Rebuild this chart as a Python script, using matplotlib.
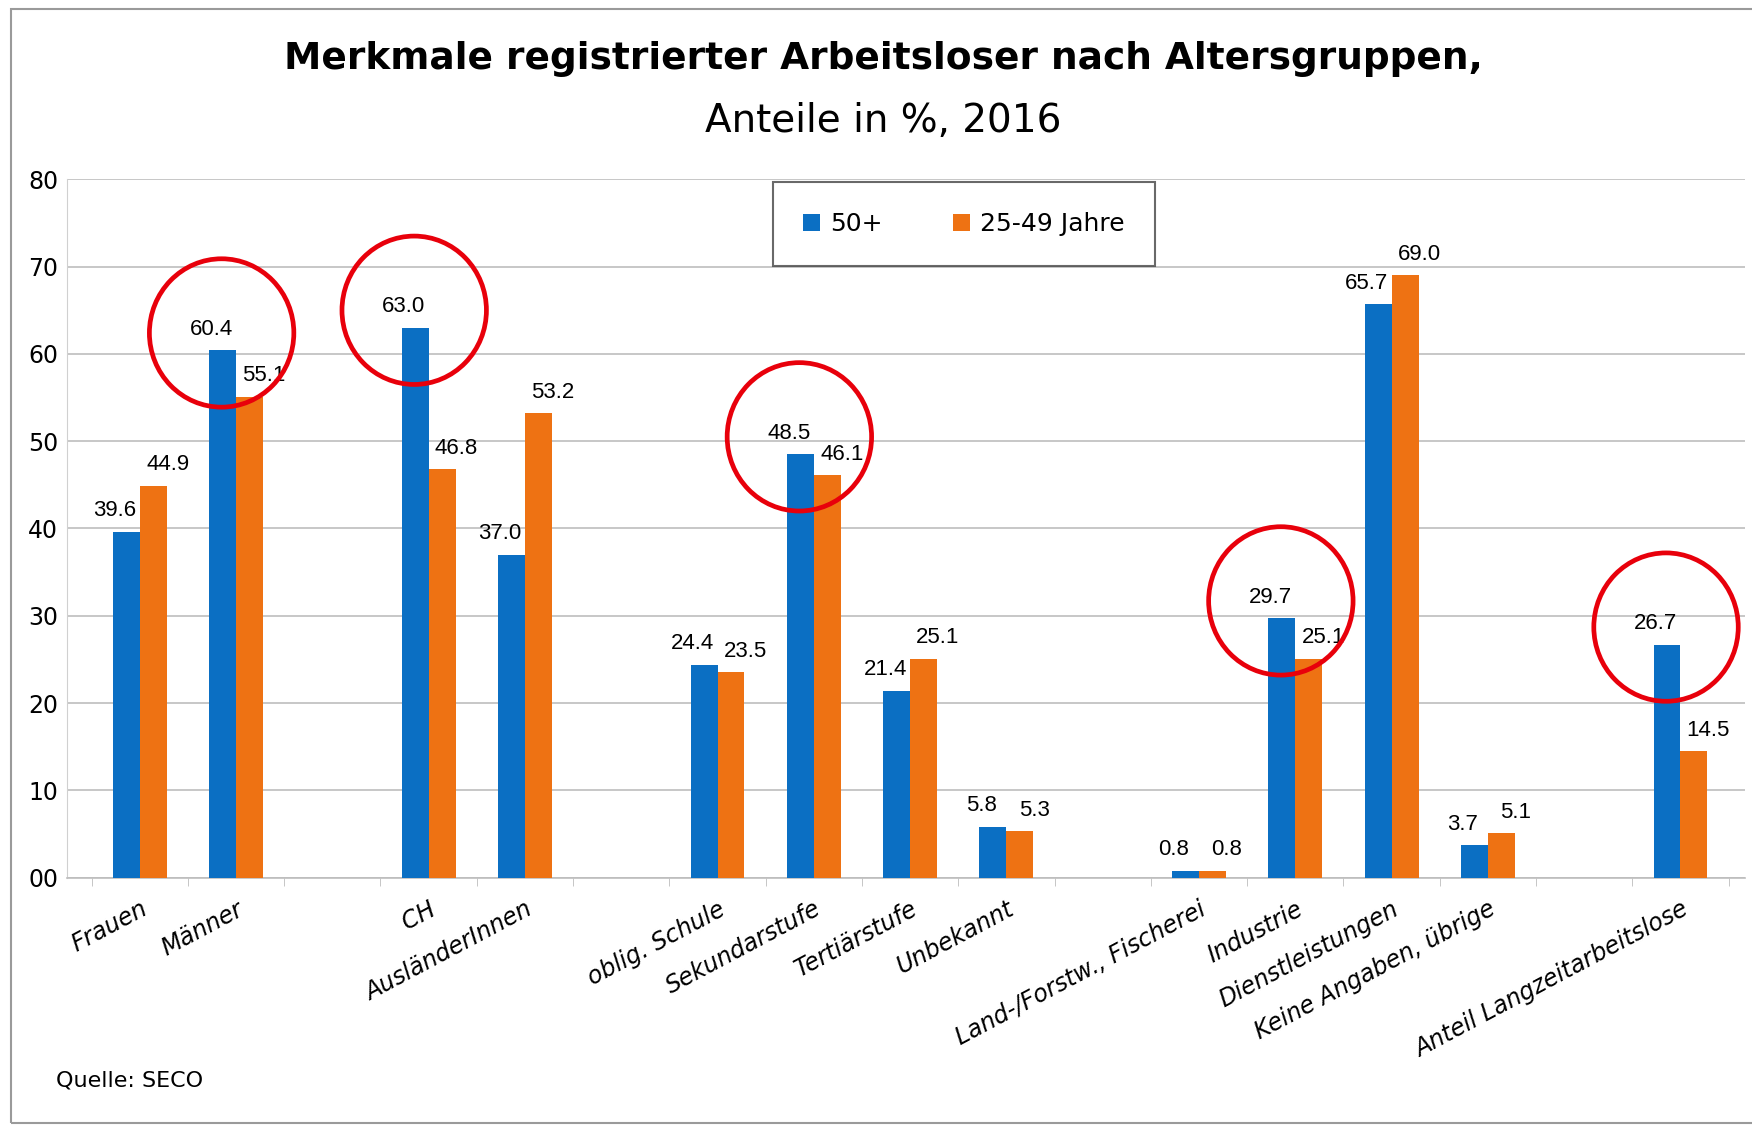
import matplotlib
matplotlib.use("Agg")
import matplotlib.pyplot as plt
from matplotlib.patches import Ellipse, Rectangle

# slots incl. empty gaps between the groups
categories = ["Frauen", "Männer", "", "CH", "AusländerInnen", "",
              "oblig. Schule", "Sekundarstufe", "Tertiärstufe", "Unbekannt", "",
              "Land-/Forstw., Fischerei", "Industrie", "Dienstleistungen",
              "Keine Angaben, übrige", "", "Anteil Langzeitarbeitslose"]
val_50 = [39.6, 60.4, None, 63.0, 37.0, None, 24.4, 48.5, 21.4, 5.8, None,
          0.8, 29.7, 65.7, 3.7, None, 26.7]
val_25 = [44.9, 55.1, None, 46.8, 53.2, None, 23.5, 46.1, 25.1, 5.3, None,
          0.8, 25.1, 69.0, 5.1, None, 14.5]
highlight = ["Männer", "CH", "Sekundarstufe", "Industrie", "Anteil Langzeitarbeitslose"]
series_names = ["50+", "25-49 Jahre"]
yticks = [0, 10, 20, 30, 40, 50, 60, 70, 80]
yticklabels = ["00", "10", "20", "30", "40", "50", "60", "70", "80"]

blue = "#0B6FC3"
orange = "#EE7213"
font = "DejaVu Sans"

fig = plt.figure(figsize=(17.52, 11.28), dpi=100)
ax = fig.add_axes([0.038, 0.222, 0.958, 0.619])

w = 0.28
xs = [i for i, v in enumerate(val_50) if v is not None]
b50 = [val_50[i] for i in xs]
b25 = [val_25[i] for i in xs]
ax.bar([x - w / 2 for x in xs], b50, width=w, color=blue, label=series_names[0], zorder=3)
ax.bar([x + w / 2 for x in xs], b25, width=w, color=orange, label=series_names[1], zorder=3)

# value labels, pushed a bit outwards so neighbours don't collide
for x, a, b in zip(xs, b50, b25):
    ax.text(x - w / 2 - 0.12, a + 1.2, f"{a:.1f}", ha="center", va="bottom",
            fontsize=16, family="Liberation Sans", zorder=5)
    ax.text(x + w / 2 + 0.15, b + 1.2, f"{b:.1f}", ha="center", va="bottom",
            fontsize=16, family="Liberation Sans", zorder=5)

# red circles
for name in highlight:
    i = categories.index(name)
    ax.add_patch(Ellipse((i - 0.15, val_50[i] + 2.0), 1.5, 17, fill=False,
                         edgecolor="#E8000B", lw=3.4, zorder=6, clip_on=False))

ax.set_xlim(-0.76, 16.67)
ax.set_ylim(0, 80)
ax.set_yticks(yticks)
ax.set_yticklabels(yticklabels, fontsize=17, family=font)
ax.tick_params(axis="y", length=0, pad=6)
ax.yaxis.grid(True, color="#BDBDBD", lw=1.2, zorder=0)
ax.set_xticks(xs)
ax.set_xticklabels([categories[i] for i in xs], rotation=28, ha="right",
                   rotation_mode="anchor", fontsize=17, family=font, style="italic")
ax.tick_params(axis="x", length=0, pad=14)
ax.set_xticks([i + 0.5 for i in range(-1, 17)], minor=True)
ax.tick_params(axis="x", which="minor", length=6, color="#BDBDBD")
for s in ["top", "right"]:
    ax.spines[s].set_visible(False)
ax.spines["left"].set_color("#D0D0D0")
ax.spines["bottom"].set_color("#BDBDBD")
ax.spines["bottom"].set_linewidth(1.2)

fig.text(0.504, 0.948, "Merkmale registrierter Arbeitsloser nach Altersgruppen,",
         ha="center", va="center", fontsize=27, fontweight="bold", family=font)
fig.text(0.504, 0.893, "Anteile in %, 2016", ha="center", va="center",
         fontsize=28, family=font)

leg = ax.legend(loc="center", bbox_to_anchor=(0.55, 0.801), bbox_transform=fig.transFigure,
                ncol=2, fontsize=18, frameon=True, fancybox=False, edgecolor="#444444",
                handlelength=0.7, handleheight=0.7, columnspacing=2.8, borderpad=1.2,
                handletextpad=0.4)
leg.get_frame().set_linewidth(1.5)

fig.text(0.032, 0.042, "Quelle: SECO", ha="left", va="center", fontsize=16, family=font)

fig.patches.append(Rectangle((0.006, 0.004), 1.2, 0.988, transform=fig.transFigure,
                             fill=False, edgecolor="#9A9A9A", lw=1.5))

fig.savefig("out.png", dpi=100)
